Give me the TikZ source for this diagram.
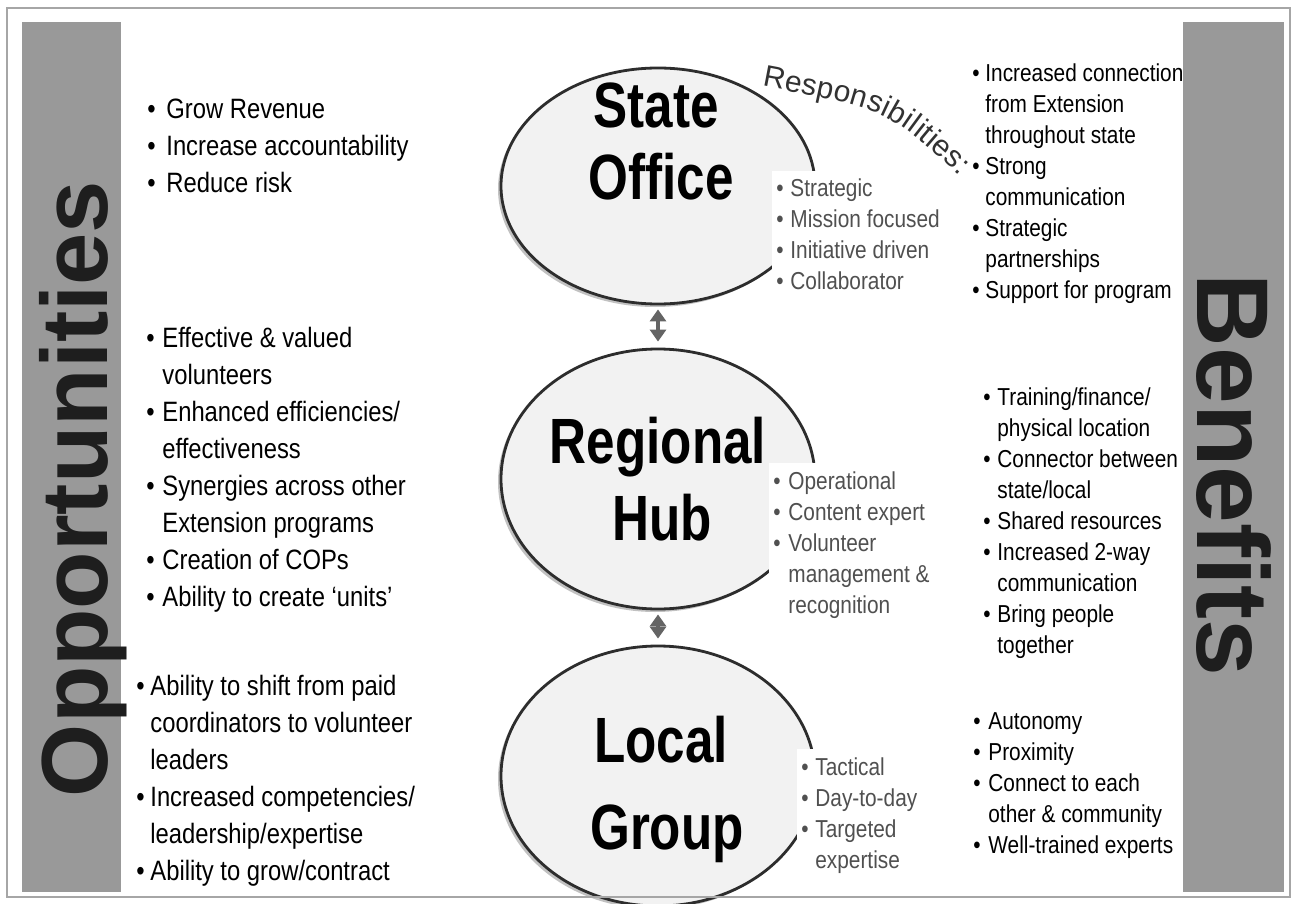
\documentclass[tikz,border=0pt]{standalone}
\usepackage{fontspec}
\setmainfont{Liberation Sans}
\newfontfamily\narrowfont{Liberation Sans}[FakeStretch=0.85]
\newfontfamily\titlefont{Liberation Sans}[FakeStretch=0.8]
\usetikzlibrary{arrows.meta,shapes.geometric,shadows,decorations.text}

\definecolor{barfill}{RGB}{153,153,153}
\definecolor{bartext}{RGB}{30,30,30}
\definecolor{respgray}{RGB}{80,80,80}
\definecolor{respdark}{RGB}{50,50,50}
\definecolor{ellfill}{RGB}{242,242,242}
\definecolor{ellline}{RGB}{45,45,45}
\definecolor{arrowgray}{RGB}{100,100,100}

\newcommand{\bulletlist}[2]{\begin{tabular}[t]{@{}p{#1}@{}l@{}}#2\end{tabular}}

\tikzset{
  level/.style={ellipse, draw=ellline, line width=1.4pt, fill=ellfill, inner sep=0pt,
    drop shadow={shadow xshift=-1.5pt, shadow yshift=-1.5pt, opacity=.4, fill=black!60}},
  levelname/.style={font=\titlefont\bfseries\fontsize{32}{36}\selectfont, anchor=base, inner sep=0pt},
  opplist/.style={font=\narrowfont\fontsize{14}{18.5}\selectfont, anchor=base west, inner sep=0pt},
  benlist/.style={font=\narrowfont\fontsize{12.25}{15.5}\selectfont, anchor=base west, inner sep=0pt},
  resplist/.style={benlist, text=respgray, fill=white, inner sep=2pt},
  sidelabel/.style={font=\bfseries\fontsize{47}{50}\selectfont, text=bartext, anchor=base, inner sep=0pt},
  updown/.style={{Triangle[width=8pt,length=6pt]}-{Triangle[width=8pt,length=6pt]}, line width=2.2pt, draw=arrowgray}
}

\begin{document}
\begin{tikzpicture}[x=0.5pt, y=-0.5pt]
  \useasboundingbox (0,0) rectangle (1293,903);
  \fill[white] (0,0) rectangle (1293,903);

  % side bars
  \fill[barfill] (22,22) rectangle (121,892);
  \fill[barfill] (1183,22) rectangle (1284,892);
  \node[sidelabel, rotate=90] (opplabel) at (107,489) {Opportunities};
  \node[sidelabel, rotate=-90, font=\bfseries\fontsize{51}{54}\selectfont] (benlabel) at (1197,475) {Benefits};

  % the three levels
  \node[level, minimum width=157pt, minimum height=118pt] (stateell) at (658,186) {};
  \node[level, minimum width=157pt, minimum height=130pt] (regell) at (658,479) {};
  \node[level, minimum width=157pt, minimum height=130pt] (localell) at (658,776) {};

  \node[levelname] (statename) at (656,128) {State};
  \node[levelname] (officename) at (661,200) {Office};
  \node[levelname] (regname) at (658,463) {Regional};
  \node[levelname] (hubname) at (662,540) {Hub};
  \node[levelname] (localname) at (661,762) {Local};
  \node[levelname] (groupname) at (667,849) {Group};

  \draw[updown, shorten <=2pt, shorten >=3pt] (stateell.south) -- (regell.north);
  \draw[updown, shorten <=2pt, shorten >=3pt] (regell.south) -- (localell.north);

  \path[decorate, decoration={text along path, text align=fit to path, text color=respdark,
    text={|\fontsize{15}{17}\selectfont|Responsibilities:}}]
    (762,86) .. controls (888,110) .. (960,176);

  % responsibilities
  \node[resplist] (stateresp) at (772,197) {\bulletlist{7pt}{%
    \textbullet & Strategic\\ \textbullet & Mission focused\\
    \textbullet & Initiative driven\\ \textbullet & Collaborator}};
  \node[resplist] (regresp) at (769,489) {\bulletlist{7.5pt}{%
    \textbullet & Operational\\ \textbullet & Content expert\\
    \textbullet & Volunteer\\ & management \&\\ & recognition}};
  \node[resplist] (localresp) at (797,775) {\bulletlist{7pt}{%
    \textbullet & Tactical\\ \textbullet & Day-to-day\\
    \textbullet & Targeted\\ & expertise}};

  % opportunities
  \node[opplist] (opp1) at (147,119) {\bulletlist{9.5pt}{%
    \textbullet & Grow Revenue\\ \textbullet & Increase accountability\\
    \textbullet & Reduce risk}};
  \node[opplist] (opp2) at (146,347) {\bulletlist{8pt}{%
    \textbullet & Effective \& valued\\ & volunteers\\
    \textbullet & Enhanced efficiencies/\\ & effectiveness\\
    \textbullet & Synergies across other\\ & Extension programs\\
    \textbullet & Creation of COPs\\
    \textbullet & Ability to create ‘units’}};
  \node[opplist] (opp3) at (136,695) {\bulletlist{7pt}{%
    \textbullet & Ability to shift from paid\\ & coordinators to volunteer\\ & leaders\\
    \textbullet & Increased competencies/\\ & leadership/expertise\\
    \textbullet & Ability to grow/contract}};

  % benefits
  \node[benlist] (ben1) at (972,82) {\bulletlist{6.5pt}{%
    \textbullet & Increased connection\\ & from Extension\\ & throughout state\\
    \textbullet & Strong\\ & communication\\
    \textbullet & Strategic\\ & partnerships\\
    \textbullet & Support for program}};
  \node[benlist] (ben2) at (983,405) {\bulletlist{7pt}{%
    \textbullet & Training/finance/\\ & physical location\\
    \textbullet & Connector between\\ & state/local\\
    \textbullet & Shared resources\\
    \textbullet & Increased 2-way\\ & communication\\
    \textbullet & Bring people\\ & together}};
  \node[benlist] (ben3) at (973,729) {\bulletlist{7.5pt}{%
    \textbullet & Autonomy\\ \textbullet & Proximity\\
    \textbullet & Connect to each\\ & other \& community\\
    \textbullet & Well-trained experts}};

  % frame
  \draw[gray!70, line width=0.8pt] (7,8) rectangle (1290,897);
\end{tikzpicture}
\end{document}
